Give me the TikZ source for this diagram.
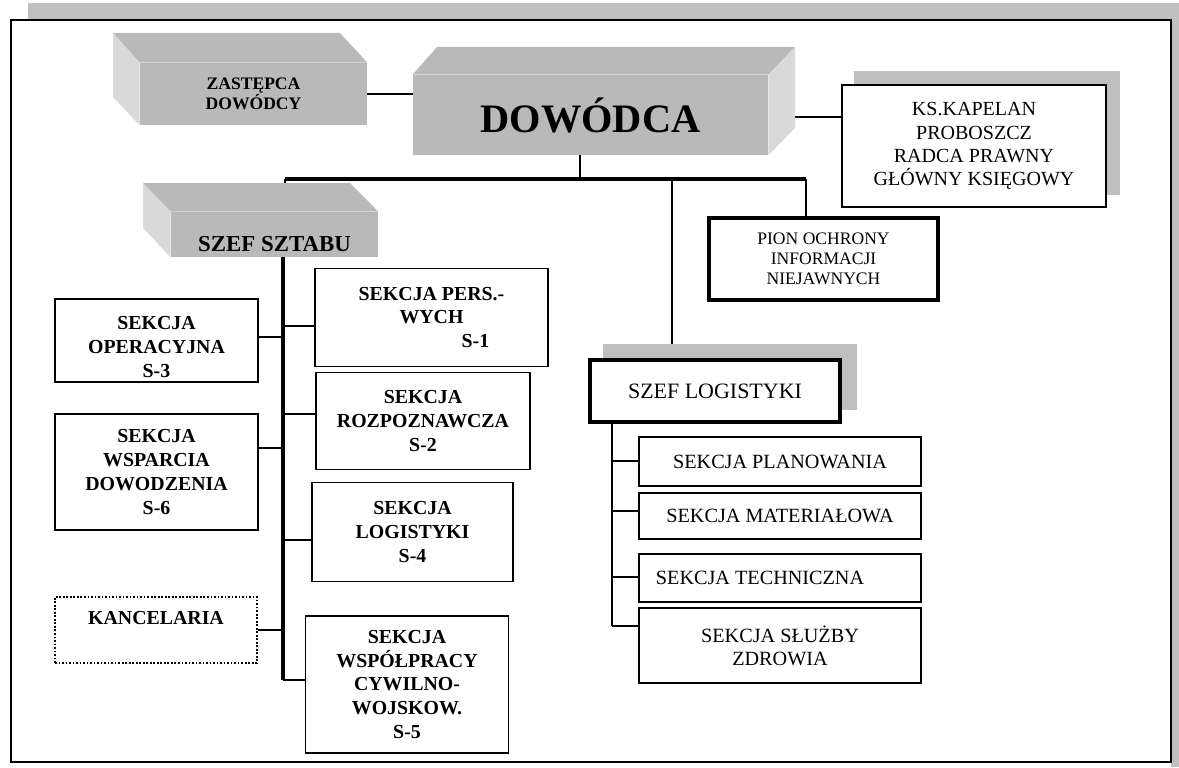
\documentclass[tikz,border=0pt]{standalone}
\usepackage{fontspec}
\setmainfont{Liberation Serif}
\usetikzlibrary{backgrounds}

\tikzset{
  wym/.style 2 args={minimum width=#1*0.02cm, minimum height=#2*0.02cm},
  ramka/.style={draw, line width=0.8pt, fill=white, align=center, inner sep=0pt},
  sekcja/.style={ramka, font=\fontsize{11.3}{13.6}\selectfont\bfseries},
  sekcjal/.style={ramka, font=\fontsize{11.5}{13.2}\selectfont},
  gruba/.style={ramka, line width=2.2pt},
  szary/.style={fill=gray!55},
  jasny/.style={fill=gray!30},
  bryla/.style={szary, inner sep=0pt, align=center},
  cien/.style={fill=gray!50},
  link/.style={line width=0.8pt},
  szyna/.style={line width=2pt},
}

\begin{document}
\begin{tikzpicture}[x=0.02cm, y=-0.02cm]
	\useasboundingbox (0,0) rectangle (1179,767);
	% ramka z cieniem
	\fill[cien] (28,3) rectangle (1179,20);
	\fill[cien] (1171,3) rectangle (1179,767);
	\draw[line width=1.1pt] (11,20) rectangle (1171,762);

	% dowodztwo
	\node (zast) at (253.5,94)	[bryla, wym={227}{62}, font=\fontsize{10}{11.3}\selectfont\bfseries]	{ZASTĘPCA\\DOWÓDCY};
	\fill[szary] (113,33) -- (340,33) -- (zast.north east) -- (zast.north west) -- cycle;
	\fill[jasny] (113,33) -- (zast.north west) -- (zast.south west) -- (113,97) -- cycle;

	\node (dow) at (590.5,115)	[bryla, wym={355}{80}, font=\fontsize{23}{26}\selectfont\bfseries]	{DOWÓDCA};
	\fill[szary] (437,47) -- (795,47) -- (dow.north east) -- (dow.north west) -- cycle;
	\fill[jasny] (dow.north east) -- (795,47) -- (795,128) -- (dow.south east) -- cycle;

	\node (kap) at (974,146)	[ramka, wym={264}{122}, font=\fontsize{11.4}{13.2}\selectfont]	{KS.KAPELAN\\PROBOSZCZ\\RADCA PRAWNY\\GŁÓWNY KSIĘGOWY};
	\node (pion) at (823.5,259)	[gruba, wym={229}{82}, font=\fontsize{10}{11.3}\selectfont]	{PION OCHRONY\\INFORMACJI\\NIEJAWNYCH};

	\node (sztab) at (274.5,234.5)	[bryla, wym={207}{45}, text height=0.68cm, font=\fontsize{13}{15}\selectfont\bfseries]	{SZEF SZTABU};
	\fill[szary] (143,183) -- (350,183) -- (sztab.north east) -- (sztab.north west) -- cycle;
	\fill[jasny] (143,183) -- (sztab.north west) -- (sztab.south west) -- (143,228) -- cycle;

	% sztab
	\node (s3) at (156.5,340.5)	[sekcja, wym={203}{83}, text height=1.47cm]	{SEKCJA\\OPERACYJNA\\S-3};
	\node (s6) at (156.5,472)	[sekcja, wym={203}{116}]	{SEKCJA\\WSPARCIA\\DOWODZENIA\\S-6};
	\node (kanc) at (156,630)	[sekcja, wym={202}{66}, dash pattern=on 1pt off 1pt, text depth=0.49cm]	{KANCELARIA};
	\node (s1) at (431.5,317.5)	[sekcja, wym={233}{98}]	{SEKCJA PERS.-\\WYCH\\\hspace*{50pt}S-1};
	\node (s2) at (423,421)	[sekcja, wym={214}{97}]	{SEKCJA\\ROZPOZNAWCZA\\S-2};
	\node (s4) at (412.5,532)	[sekcja, wym={201}{99}]	{SEKCJA\\LOGISTYKI\\S-4};
	\node (s5) at (407,684.5)	[sekcja, wym={203}{137}]	{SEKCJA\\WSPÓŁPRACY\\CYWILNO-\\WOJSKOW.\\S-5};

	% logistyka
	\node (szeflog) at (715,391)	[gruba, wym={250}{62}, font=\fontsize{12.5}{14}\selectfont]	{SZEF LOGISTYKI};
	\node (plan) at (780,461.5)	[sekcjal, wym={282}{49}]	{SEKCJA PLANOWANIA};
	\node (mat) at (780,516)	[sekcjal, wym={282}{46}]	{SEKCJA MATERIAŁOWA};
	\node (tech) at (780,578)	[sekcjal, wym={282}{48}]	{SEKCJA TECHNICZNA\hspace*{22.7pt}};
	\node (zdr) at (780,645.5)	[sekcjal, wym={282}{75}]	{SEKCJA SŁUŻBY\\ZDROWIA};

	\coordinate (szynaL) at (285,179);
	\coordinate (szynaR) at (806,179);
	\coordinate (szynaD) at (580,179);
	\coordinate (szynaG) at (672,179);
	\coordinate (dowp) at (795,117);
	\coordinate (pien) at (283,680);
	\coordinate (oslog) at (612,626);

	\begin{scope}[on background layer]
		\draw[link] (zast.east) -- (zast.east -| dow.west);
		\draw[link] (dowp) -- (dowp -| kap.west);
		\draw[szyna] (szynaL) -- (szynaR);
		\draw[link] (szynaD |- dow.south) -- (szynaD);
		\draw[link] (szynaL) -- (szynaL |- 0,183);
		\draw[link] (szynaR) -- (szynaR |- pion.north);
		\draw[link] (szynaG) -- (szynaG |- szeflog.north);
		\draw[szyna, line width=2.3pt] (pien |- sztab.south) -- (pien);
		\draw[link] (s3.east |- 0,337) -- (pien |- 0,337);
		\draw[link] (s6.east |- 0,448) -- (pien |- 0,448);
		\draw[link] (kanc.east) -- (kanc.east -| pien);
		\draw[link] (pien |- 0,326) -- (s1.west |- 0,326);
		\draw[link] (pien |- 0,414) -- (s2.west |- 0,414);
		\draw[link] (pien |- 0,540) -- (s4.west |- 0,540);
		\draw[link] (pien) -- (pien -| s5.west);
		\draw[link] (oslog |- szeflog.south) -- (oslog);
		\foreach \k/\y in {plan/461, mat/511, tech/577}
			\draw[link] (oslog |- 0,\y) -- (\k.west |- 0,\y);
		\draw[link] (oslog) -- (oslog -| zdr.west);
		% cienie
		\fill[cien] ([shift={(13,-13)}]kap.south west) rectangle ([shift={(13,-13)}]kap.north east);
		\fill[cien] ([shift={(15,-14)}]szeflog.south west) rectangle ([shift={(15,-14)}]szeflog.north east);
	\end{scope}
\end{tikzpicture}
\end{document}
